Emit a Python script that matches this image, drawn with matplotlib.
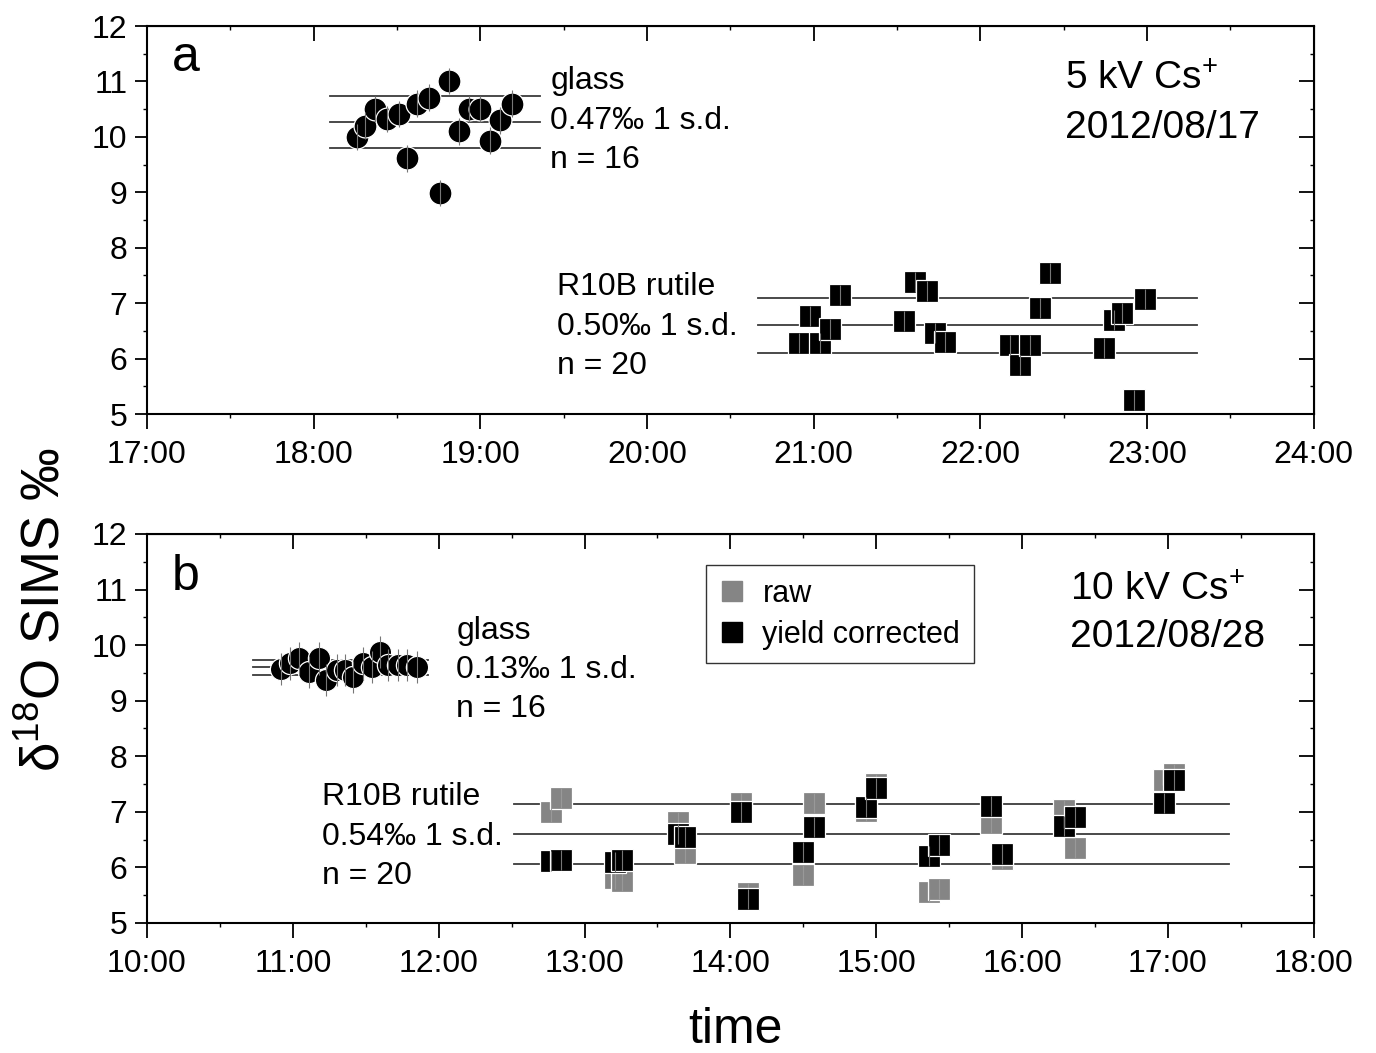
import numpy as np
import matplotlib
matplotlib.use("Agg")
import matplotlib.pyplot as plt
from matplotlib.ticker import FuncFormatter, MultipleLocator
from matplotlib.lines import Line2D

plt.rcParams['font.family'] = ['Liberation Sans', 'DejaVu Sans']
plt.rcParams['mathtext.fontset'] = 'custom'
plt.rcParams['mathtext.rm'] = 'Liberation Sans'
plt.rcParams['mathtext.it'] = 'Liberation Sans'

# ---- panel a : 5 kV Cs+, 2012/08/17 (time in decimal hours)
glass_a_t = [18.26, 18.31, 18.37, 18.44, 18.51, 18.56, 18.62, 18.69, 18.76, 18.81,
             18.87, 18.93, 19.00, 19.06, 19.12, 19.19]
glass_a_d = [10.00, 10.20, 10.50, 10.32, 10.41, 9.61, 10.60, 10.71, 8.99, 11.01,
             10.10, 10.50, 10.50, 9.93, 10.30, 10.60]
rut_a_t = [20.91, 20.98, 21.04, 21.10, 21.16, 21.54, 21.61, 21.68, 21.73, 21.79,
           22.18, 22.24, 22.30, 22.36, 22.42, 22.74, 22.80, 22.85, 22.92, 22.99]
rut_a_d = [6.28, 6.77, 6.28, 6.53, 7.15, 6.67, 7.38, 7.22, 6.47, 6.30,
           6.25, 5.88, 6.25, 6.91, 7.54, 6.19, 6.70, 6.82, 5.25, 7.07]
glass_a_stats = [10.27, 0.47]
rut_a_stats = [6.60, 0.50]

# ---- panel b : 10 kV Cs+, 2012/08/28
glass_b_t = [10.92, 10.98, 11.04, 11.11, 11.18, 11.23, 11.30, 11.36, 11.41, 11.48,
             11.54, 11.60, 11.65, 11.72, 11.78, 11.85]
glass_b_d = [9.57, 9.67, 9.76, 9.52, 9.76, 9.37, 9.55, 9.55, 9.43, 9.67,
             9.61, 9.88, 9.64, 9.64, 9.64, 9.61]
rut_b_t = [12.77, 12.84, 13.21, 13.26, 13.64, 13.69, 14.07, 14.12, 14.50, 14.57,
           14.93, 15.00, 15.36, 15.43, 15.79, 15.86, 16.29, 16.36, 16.97, 17.04]
rut_b_raw = [6.99, 7.24, 5.80, 5.76, 6.82, 6.25, 7.16, 5.54, 5.86, 7.16,
             7.01, 7.50, 5.55, 5.61, 6.79, 6.15, 7.03, 6.34, 7.57, 7.68]
rut_b_corr = [6.12, 6.13, 6.09, 6.13, 6.60, 6.54, 6.99, 5.43, 6.28, 6.72,
              7.09, 7.43, 6.21, 6.40, 7.11, 6.24, 6.75, 6.90, 7.16, 7.57]
glass_b_stats = [9.60, 0.13]
rut_b_stats = [6.60, 0.54]

GRAY = '#858585'
LINE = '#3a3a3a'


def sd_lines(ax, stats, x0, x1):
    m, s = stats
    for v in (m - s, m, m + s):
        ax.plot([x0, x1], [v, v], color=LINE, lw=1.3, zorder=1)


def points(ax, t, d, marker, ms, color, err):
    ax.plot(t, d, ls='none', marker=marker, ms=ms, mfc=color, mec='white',
            mew=0.9, zorder=2)
    ax.errorbar(t, d, yerr=err, fmt='none', ecolor='#777777', elinewidth=0.8,
                capsize=0, zorder=3)


def style(ax, xlo, xhi):
    ax.set_xlim(xlo, xhi)
    ax.set_ylim(5, 12)
    ax.xaxis.set_major_locator(MultipleLocator(1))
    ax.xaxis.set_minor_locator(MultipleLocator(0.5))
    ax.yaxis.set_major_locator(MultipleLocator(1))
    ax.yaxis.set_minor_locator(MultipleLocator(0.5))
    ax.xaxis.set_major_formatter(FuncFormatter(lambda v, p: "%d:00" % round(v)))
    for sp in ax.spines.values():
        sp.set_linewidth(1.5)
    ax.tick_params(axis='x', which='major', direction='out', length=11, width=1.3,
                   labelsize=23, pad=8)
    ax.tick_params(axis='y', which='major', direction='out', length=9, width=1.3,
                   labelsize=23, pad=5)
    ax.tick_params(which='minor', direction='out', length=3, width=1.0)
    top = ax.secondary_xaxis('top')
    top.xaxis.set_major_locator(MultipleLocator(1))
    top.xaxis.set_minor_locator(MultipleLocator(0.5))
    top.tick_params(which='major', direction='in', length=11, width=1.3, labeltop=False)
    top.tick_params(which='minor', direction='in', length=3, width=1.0)
    right = ax.secondary_yaxis('right')
    right.yaxis.set_major_locator(MultipleLocator(1))
    right.yaxis.set_minor_locator(MultipleLocator(0.5))
    right.tick_params(which='major', direction='in', length=11, width=1.3, labelright=False)
    right.tick_params(which='minor', direction='in', length=3, width=1.0)


fig = plt.figure(figsize=(13.76, 10.53), dpi=100)
ax1 = fig.add_axes([0.1068, 0.6068, 0.848, 0.3685])
ax2 = fig.add_axes([0.1068, 0.1235, 0.848, 0.3694])

# panel a
sd_lines(ax1, glass_a_stats, 18.10, 19.36)
sd_lines(ax1, rut_a_stats, 20.665, 23.30)
points(ax1, glass_a_t, glass_a_d, 'o', 16.5, 'black', 0.24)
points(ax1, rut_a_t, rut_a_d, 's', 15.5, 'black', 0.18)
style(ax1, 17, 24)

txt = dict(fontsize=23, va='center', ha='left')
ax1.text(19.42, 11.01, "glass", **txt)
ax1.text(19.42, 10.29, "0.47\u2030 1 s.d.", **txt)
ax1.text(19.42, 9.58, "n = 16", **txt)
ax1.text(19.46, 7.29, "R10B rutile", **txt)
ax1.text(19.46, 6.57, "0.50\u2030 1 s.d.", **txt)
ax1.text(19.46, 5.87, "n = 20", **txt)
ax1.text(22.51, 11.03, "5 kV Cs$^{+}$", fontsize=28, va='center', ha='left')
ax1.text(22.51, 10.16, "2012/08/17", fontsize=28, va='center', ha='left')
ax1.text(17.15, 11.42, "a", fontsize=36, va='center', ha='left')

# panel b
sd_lines(ax2, glass_b_stats, 10.73, 11.93)
sd_lines(ax2, rut_b_stats, 12.515, 17.42)
points(ax2, glass_b_t, glass_b_d, 'o', 16, 'black', 0.29)
ax2.plot(rut_b_t, rut_b_raw, ls='none', marker='s', ms=15.5, mfc=GRAY, mec='white',
         mew=0.9, zorder=2, label='raw')
ax2.errorbar(rut_b_t, rut_b_raw, yerr=0.18, fmt='none', ecolor='#999999',
             elinewidth=0.8, zorder=2.5)
ax2.plot(rut_b_t, rut_b_corr, ls='none', marker='s', ms=15.5, mfc='black', mec='white',
         mew=0.9, zorder=2.6, label='yield corrected')
ax2.errorbar(rut_b_t, rut_b_corr, yerr=0.18, fmt='none', ecolor='#777777',
             elinewidth=0.8, zorder=3)
style(ax2, 10, 18)

ax2.text(12.12, 10.25, "glass", **txt)
ax2.text(12.12, 9.55, "0.13\u2030 1 s.d.", **txt)
ax2.text(12.12, 8.85, "n = 16", **txt)
ax2.text(11.20, 7.27, "R10B rutile", **txt)
ax2.text(11.20, 6.55, "0.54\u2030 1 s.d.", **txt)
ax2.text(11.20, 5.85, "n = 20", **txt)
ax2.text(16.33, 10.99, "10 kV Cs$^{+}$", fontsize=28, va='center', ha='left')
ax2.text(16.33, 10.15, "2012/08/28", fontsize=28, va='center', ha='left')
ax2.text(10.17, 11.22, "b", fontsize=36, va='center', ha='left')

handles = [Line2D([], [], ls='none', marker='s', ms=14, mfc=GRAY, mec=GRAY),
           Line2D([], [], ls='none', marker='s', ms=14, mfc='black', mec='black')]
leg = ax2.legend(handles, ['raw', 'yield corrected'], loc='upper left',
                 bbox_to_anchor=(0.479, 0.92), borderaxespad=0, fontsize=22,
                 frameon=True, fancybox=False, edgecolor='black', handlelength=0.8,
                 handletextpad=0.6, borderpad=0.45, labelspacing=0.35)
leg.get_frame().set_linewidth(1.0)

fig.text(0.033, 1 - 610 / 1053, "\u03b4$^{18}$O SIMS \u2030", rotation=90,
         fontsize=38, ha='center', va='center')
fig.text(735 / 1376, 1 - 1030 / 1053, "time", fontsize=36, ha='center', va='center')

fig.savefig("out.png", dpi=100)
